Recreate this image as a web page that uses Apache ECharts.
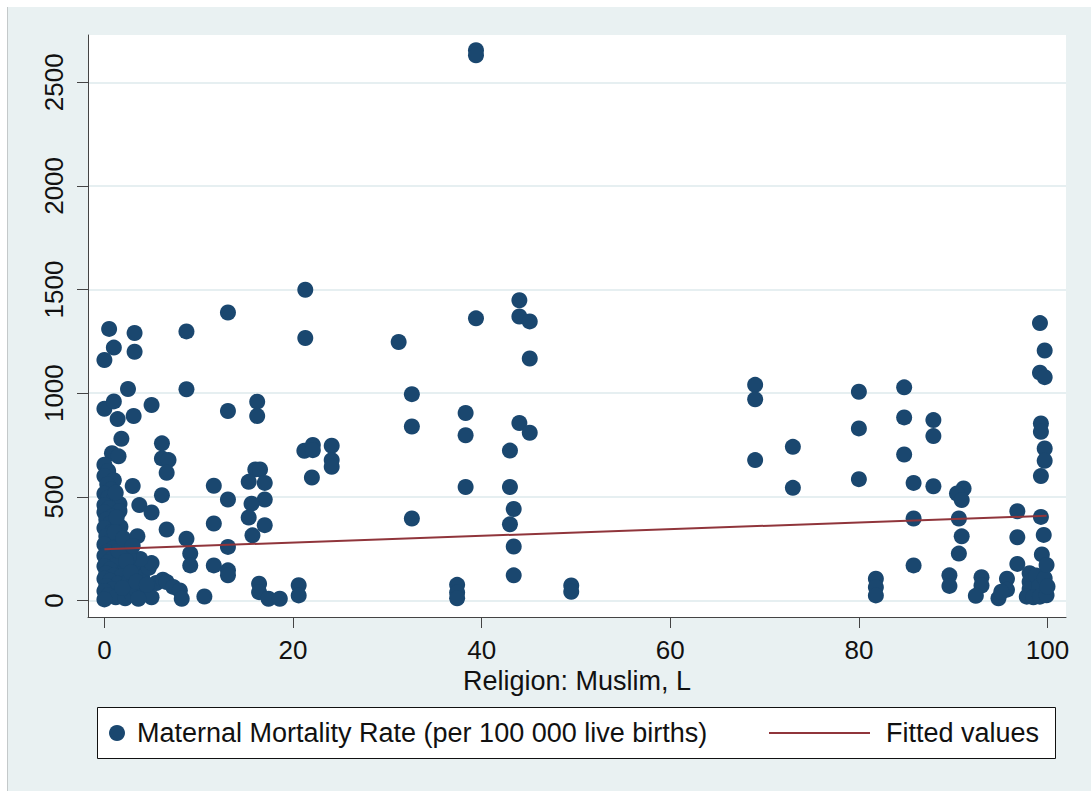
<!DOCTYPE html>
<html>
<head>
<meta charset="utf-8">
<script src="https://cdn.jsdelivr.net/npm/echarts@6/dist/echarts.min.js"></script>
<style>
html,body{margin:0;padding:0;background:#fff;}
#panel{position:absolute;left:7px;top:7px;width:1084px;height:784px;background:#e9f1f2;border-left:1px solid #c4c9ca;box-sizing:border-box;}
#main{position:absolute;left:0;top:0;width:1091px;height:791px;}
</style>
</head>
<body>
<div id="panel"></div>
<div id="main"></div>
<script>
// ---- data ----
const xTickValues = [0, 20, 40, 60, 80, 100];
const xTickLabels = ['0', '20', '40', '60', '80', '100'];
const yTickValues = [0, 500, 1000, 1500, 2000, 2500];
const yTickLabels = ['0', '500', '1000', '1500', '2000', '2500'];

// [Religion: Muslim %, Maternal mortality per 100 000 live births]
const clusterNearZero = [
  [0,1160],[0.5,1310],[1.0,1220],[3.2,1290],[3.2,1200],[2.5,1020],[0,925],[1.0,960],[1.4,875],[3.1,890],[1.8,780],
  [0.8,710],[1.5,695],[0,655],[0.4,625],[0,600],[1.0,580],[0.3,560],[0.7,535],[0,515],[0.4,495],[0.9,480],[0,460],
  [1.6,465],[0.5,445],[1.6,432],[0,425],[0.8,405],[0.2,390],[0.6,370],[1.7,355],[0,350],[0.8,330],[0.2,310],[1.4,290],
  [0.6,285],[0,270],[0.9,250],[0.3,235],[0,215],[0.8,200],[0.4,185],[1.2,170],[0,165],[0.6,150],[2.2,147],[0.2,130],
  [1.0,120],[1.8,115],[0,105],[0.6,95],[1.4,80],[0.2,70],[2.4,75],[0.9,55],[0,45],[1.8,40],[0.4,25],[1.2,15],[0,5],
  [2.2,10],[2.9,30],[3.2,60],[2.7,100],[3.5,130],[3.0,170],[4.0,110],[4.7,157],[4.3,40],[5.0,15],[3.6,8],[5.5,84],
  [6.2,100],[5.0,180],[3.8,200],[2.6,210],[1.2,520],[1.3,400],[1.1,330],[1.5,240],[2.0,300],[2.3,190],[1.9,60],
  [2.8,135],[3.4,90],[4.5,75]
];
const lowMuslim = [
  [3.0,552],[3.7,460],[5.0,424],[3.5,310],[3.0,262],[5.0,943],[6.1,758],[6.1,685],[6.8,677],[6.6,616],[6.1,508],
  [6.6,342],[6.6,89],[7.3,65],[8.0,48],[8.2,8],[8.7,1298],[8.7,1019],[8.7,298],[9.1,226],[9.1,169],[10.6,19],
  [11.6,553],[11.6,371],[11.6,169],[13.1,1389],[13.1,914],[13.1,487],[13.1,258],[13.1,145],[13.1,121],
  [16.2,959],[16.2,890],[16.0,632],[16.5,632],[15.3,572],[17.0,567],[17.0,487],[15.6,467],[15.3,400],[17.0,363],
  [15.7,314],[16.4,81],[16.4,40],[17.4,8],[18.6,8],[20.6,73],[20.6,24],
  [21.3,1499],[21.3,1266],[21.2,722],[22.1,750],[22.1,725],[24.1,746],[24.1,677],[24.1,645],[22.0,593]
];
const midMuslim = [
  [31.2,1247],[32.6,995],[32.6,839],[32.6,395],[37.4,75],[37.4,38],[37.4,10],[38.3,904],[38.3,797],[38.3,547],
  [39.4,2655],[39.4,2630],[39.4,1361],[44.0,1448],[44.0,1370],[45.1,1346],[45.1,1167],[44.0,856],[45.1,809],
  [43.0,723],[43.0,547],[43.4,441],[43.0,367],[43.4,260],[43.4,121],[49.5,72],[49.5,42]
];
const highMuslim = [
  [69.0,1040],[69.0,970],[69.0,677],[73.0,741],[73.0,543],[80.0,1007],[80.0,830],[80.0,585],
  [81.8,105],[81.8,64],[81.8,24],[84.8,1028],[84.8,883],[84.8,704],[85.8,567],[85.8,395],[85.8,169],
  [87.9,870],[87.9,793],[87.9,551],[89.6,121],[89.6,70],[91.1,540],[90.4,516],[90.9,484],[90.6,395],[90.9,309],
  [90.6,226],[93.0,112],[93.0,72],[92.4,22],[95.7,105],[95.7,52],[94.8,10],[95.1,42],[96.8,430],[96.8,305],[96.8,176],
  [98.1,131],[98.1,90],[98.1,55],[98.8,120],[99.1,68],[97.8,18],[98.5,15],[99.2,18],[99.9,25],[99.7,107],[100.0,67],
  [99.2,1338],[99.7,1206],[99.2,1099],[99.7,1077],[99.3,854],[99.3,814],[99.7,733],[99.7,674],[99.3,600],
  [99.3,403],[99.6,316],[99.4,222],[99.9,171]
];
const fittedX = [0, 99.9];
const fittedY = [247, 408];

const scatterData = clusterNearZero.concat(lowMuslim, midMuslim, highMuslim);
const fittedData = fittedX.map((x, i) => [x, fittedY[i]]);

const FONT = "'Liberation Sans', Arial, Helvetica, sans-serif";
const chart = echarts.init(document.getElementById('main'), null, {renderer: 'svg'});
chart.setOption({
  backgroundColor: 'transparent',
  animation: false,
  textStyle: {fontFamily: FONT},
  grid: {left: 88, right: 25, top: 35, bottom: 174, show: true, backgroundColor: '#ffffff', borderWidth: 0, containLabel: false},
  xAxis: {
    type: 'value', min: -1.74, max: 101.96,
    name: 'Religion: Muslim, L', nameLocation: 'middle', nameGap: 49,
    nameTextStyle: {fontSize: 27, color: '#111', fontFamily: FONT},
    axisLine: {show: true, onZero: false, lineStyle: {color: '#444', width: 1}},
    axisTick: {show: true, length: 11, customValues: xTickValues, lineStyle: {color: '#444'}},
    axisLabel: {customValues: xTickValues, fontSize: 26, color: '#111', margin: 20, fontFamily: FONT,
      formatter: v => xTickLabels[xTickValues.indexOf(v)] ?? String(v)},
    splitLine: {show: false}
  },
  yAxis: {
    type: 'value', min: -80, max: 2728,
    axisLine: {show: true, onZero: false, lineStyle: {color: '#444', width: 1}},
    axisTick: {show: true, length: 11, customValues: yTickValues, lineStyle: {color: '#444'}},
    axisLabel: {customValues: yTickValues, rotate: 90, fontSize: 26, color: '#111', margin: 21, fontFamily: FONT,
      formatter: v => yTickLabels[yTickValues.indexOf(v)] ?? String(v)},
    splitLine: {show: true, lineStyle: {color: '#e6eff1', width: 2}}
  },
  graphic: [{
    type: 'rect', z: 0, silent: true,
    shape: {x: 97.5, y: 707.5, width: 958, height: 51},
    style: {fill: '#ffffff', stroke: '#111', lineWidth: 1}
  }],
  legend: [{
    data: ['Maternal Mortality Rate (per 100 000 live births)'],
    left: 109, top: 718, padding: 0, itemWidth: 16, itemHeight: 16, z: 10,
    textStyle: {fontSize: 27, color: '#111', fontFamily: FONT, lineHeight: 30, padding: [0, 0, 0, 7]}
  }, {
    data: [{name: 'Fitted values', icon: 'rect'}],
    left: 769, top: 718, padding: 0, itemWidth: 101, itemHeight: 2, z: 10,
    itemStyle: {color: '#90353b'},
    textStyle: {fontSize: 27, color: '#111', fontFamily: FONT, lineHeight: 30, padding: [0, 0, 0, 11]}
  }],
  series: [{
    name: 'Maternal Mortality Rate (per 100 000 live births)',
    type: 'scatter', data: scatterData, symbol: 'circle', symbolSize: 16,
    itemStyle: {color: '#1a476f', opacity: 1}
  }, {
    name: 'Fitted values',
    type: 'line', data: fittedData, symbol: 'none', showSymbol: false, z: 3,
    lineStyle: {color: '#90353b', width: 2}, itemStyle: {color: '#90353b'}
  }]
});
</script>
</body>
</html>
